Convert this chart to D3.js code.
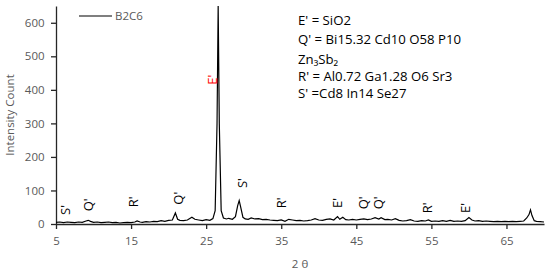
<!DOCTYPE html>
<html>
<head>
<meta charset="utf-8">
<script src="https://cdn.jsdelivr.net/npm/d3@7"></script>
<style>
  body { margin: 0; background: #fff; }
  text { font-family: "Open Sans", sans-serif; }
</style>
</head>
<body>
<script>
// chart size
var svgWidth = 550;
var svgHeight = 275;

// 2 theta positions and counts
var twoTheta = [5.0, 5.5, 6.0, 6.5, 7.0, 7.5, 8.0, 8.5, 9.0, 9.3, 9.6, 10.0, 10.5, 11.0, 11.5, 12.0, 12.5, 13.0, 13.5, 14.0,
  14.5, 15.0, 15.5, 15.8, 16.2, 16.5, 17.0, 17.5, 18.0, 18.5, 19.0, 19.5, 20.0, 20.5, 20.9, 21.2, 21.5, 22.0, 22.5, 23.1,
  23.5, 24.0, 24.5, 25.0, 25.5, 25.9, 26.2, 26.45, 26.6, 26.75, 27.0, 27.3, 27.7, 28.0, 28.5, 28.9, 29.2, 29.4, 29.6, 29.9,
  30.2, 30.6, 31.0, 31.5, 32.0, 32.5, 33.0, 33.5, 34.0, 34.5, 35.0, 35.5, 36.0, 36.5, 37.0, 37.5, 38.0, 38.5, 39.0, 39.5,
  40.0, 40.5, 41.0, 41.5, 42.0, 42.5, 42.8, 43.2, 43.6, 44.0, 44.5, 45.0, 45.5, 46.0, 46.5, 47.0, 47.5, 48.0, 48.3, 48.8,
  49.2, 49.7, 50.2, 50.7, 51.2, 51.7, 52.2, 52.7, 53.2, 53.7, 54.2, 54.6, 55.0, 55.5, 56.0, 56.5, 57.0, 57.5, 58.0, 58.5,
  59.0, 59.5, 60.0, 60.4, 60.8, 61.3, 61.8, 62.3, 62.8, 63.3, 63.8, 64.3, 64.8, 65.3, 65.8, 66.3, 66.8, 67.3, 67.7, 68.0,
  68.2, 68.4, 68.7, 69.0, 69.5, 70.0];
var counts = [5, 6, 4, 6, 5, 4, 6, 5, 9, 11, 8, 5, 6, 4, 5, 6, 4, 5, 3, 4,
  5, 4, 6, 9, 6, 5, 7, 6, 8, 7, 10, 8, 11, 12, 33, 14, 11, 10, 12, 20,
  14, 12, 10, 13, 11, 16, 40, 300, 650, 300, 40, 18, 15, 17, 14, 22, 55, 70, 50, 20,
  15, 14, 18, 15, 16, 13, 14, 12, 11, 10, 12, 8, 14, 12, 10, 11, 9, 10, 12, 16,
  12, 11, 14, 15, 12, 22, 14, 20, 13, 12, 14, 12, 14, 15, 13, 15, 19, 15, 19, 13,
  14, 12, 16, 11, 9, 10, 13, 9, 8, 10, 9, 12, 8, 9, 8, 10, 8, 11, 8, 9,
  8, 10, 19, 12, 9, 10, 8, 9, 8, 7, 8, 7, 8, 7, 8, 7, 8, 9, 18, 28,
  42, 25, 10, 8, 7, 6];

// phase markers
var peakNames = ["S'", "Q'", "R'", "Q'", "E'", "S'", "R'", "E'", "Q'", "Q'", "R'", "E'"];
var peakTheta = [6.2, 9.3, 15.3, 21.3, 25.8, 29.9, 35.1, 42.5, 45.9, 47.9, 54.5, 59.5];
var peakLevel = [42, 57, 66, 77, 430, 122, 63, 63, 63, 63, 48, 48];

var xTicks = [5, 15, 25, 35, 45, 55, 65];
var yTicks = [0, 100, 200, 300, 400, 500, 600];

var phaseNotes = ["E' = SiO2", "Q' = Bi15.32 Cd10 O58 P10", "Zn₃Sb₂", "R' = Al0.72 Ga1.28 O6 Sr3", "S' =Cd8 In14 Se27"];
var noteY = [25, 44, 64, 81, 98];

var margin = {left: 56, right: 6, top: 6, bottom: 51};

var svg = d3.select("body")
    .append("svg")
    .attr("width", svgWidth)
    .attr("height", svgHeight);

var x = d3.scaleLinear().domain([5, 70]).range([margin.left, svgWidth - margin.right]);
var y = d3.scaleLinear().domain([0, 650]).range([svgHeight - margin.bottom, margin.top]);

var grey = "#595959";

// axes
var xAxis = svg.append("g")
    .attr("transform", "translate(0," + y(0) + ")")
    .call(d3.axisBottom(x).tickValues(xTicks).tickSize(5).tickSizeOuter(0));
var yAxis = svg.append("g")
    .attr("transform", "translate(" + x(5) + ",0)")
    .call(d3.axisLeft(y).tickValues(yTicks).tickSize(5).tickSizeOuter(0));

[xAxis, yAxis].forEach(function(a){
  a.select(".domain").attr("stroke", "#262626").attr("stroke-width", 1.3);
  a.selectAll(".tick line").attr("stroke", "#262626").attr("stroke-width", 1.3);
  a.selectAll(".tick text").attr("fill", grey).style("font-size", "11.5px");
});
xAxis.selectAll(".tick text").attr("dy", "1.1em");
yAxis.selectAll(".tick text").attr("dx", "-0.3em");

// pattern line
var line = d3.line()
    .x(function(d, i){ return x(twoTheta[i]); })
    .y(function(d){ return y(d); });

svg.append("path")
    .datum(counts)
    .attr("fill", "none")
    .attr("stroke", "#000")
    .attr("stroke-width", 1.2)
    .attr("d", line);

// axis titles
svg.append("text")
    .attr("transform", "translate(14," + ((y(0) + y(650)) / 2) + ") rotate(-90)")
    .attr("text-anchor", "middle")
    .attr("fill", grey)
    .style("font-size", "11.5px")
    .text("Intensity Count");

svg.append("text")
    .attr("x", (x(5) + x(70)) / 2)
    .attr("y", 268)
    .attr("text-anchor", "middle")
    .attr("fill", grey)
    .style("font-size", "11.5px")
    .text("2 θ");

// legend
svg.append("line")
    .attr("x1", 79).attr("x2", 112)
    .attr("y1", 16).attr("y2", 16)
    .attr("stroke", "#000").attr("stroke-width", 1.2);
svg.append("text")
    .attr("x", 115).attr("y", 20)
    .attr("fill", grey)
    .style("font-size", "11.5px")
    .text("B2C6");

// peak labels
svg.selectAll(".peak")
    .data(peakNames)
    .enter()
    .append("text")
    .attr("class", "peak")
    .attr("transform", function(d, i){
      return "translate(" + (x(peakTheta[i]) + 4.5) + "," + y(peakLevel[i]) + ") rotate(-90)";
    })
    .attr("text-anchor", "middle")
    .attr("fill", function(d, i){ return i == 4 ? "#ff0000" : "#000"; })
    .style("font-size", "13px")
    .text(function(d){ return d; });

// phase list
svg.selectAll(".note")
    .data(phaseNotes)
    .enter()
    .append("text")
    .attr("class", "note")
    .attr("x", 298)
    .attr("y", function(d, i){ return noteY[i]; })
    .attr("fill", "#000")
    .style("font-size", "13.2px")
    .text(function(d){ return d; });
</script>
</body>
</html>
